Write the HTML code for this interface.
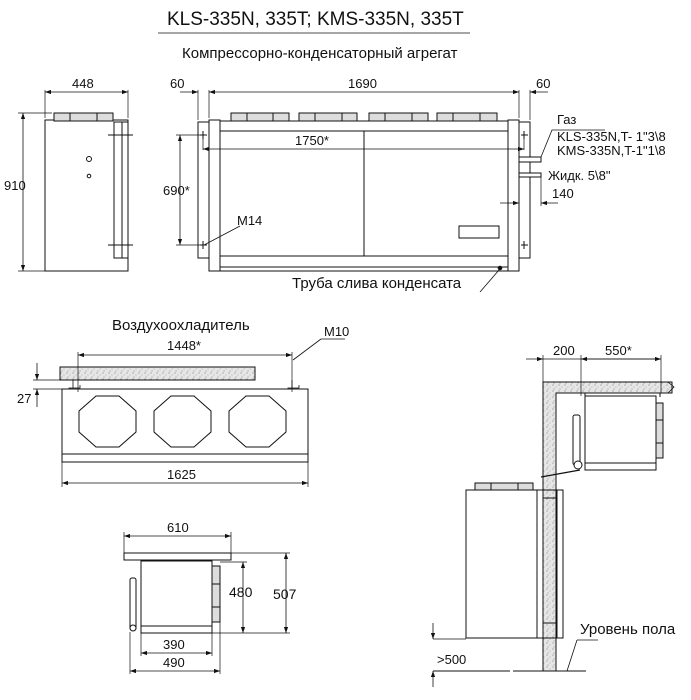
<!DOCTYPE html>
<html><head><meta charset="utf-8"><style>
html,body{margin:0;padding:0;background:#fff;}
svg{display:block;}
text{font-family:"Liberation Sans",sans-serif;font-size:12.5px;fill:#111;}
</style></head><body>
<svg width="691" height="700" viewBox="0 0 691 700" xmlns="http://www.w3.org/2000/svg">
<defs>
<marker id="a" viewBox="0 0 10 10" refX="10" refY="5" markerWidth="9" markerHeight="6" orient="auto-start-reverse" markerUnits="userSpaceOnUse"><path d="M0,1.5 L10,5 L0,8.5 z" fill="#111"/></marker>
<pattern id="sp" width="6" height="6" patternUnits="userSpaceOnUse"><rect width="6" height="6" fill="#e6e6e6"/><circle cx="1" cy="1" r=".6" fill="#888"/><circle cx="4" cy="3" r=".5" fill="#999"/><circle cx="2" cy="5" r=".5" fill="#777"/></pattern>
</defs>
<g stroke="#111" fill="none" stroke-width="1">
<line x1="158" y1="33" x2="470" y2="33" stroke-width="0.8"/>
<rect x="45" y="120" width="83" height="151" fill="#fff"/>
<rect x="54" y="113" width="59" height="8" fill="#ddd"/>
<line x1="70" y1="113" x2="70" y2="121"/><line x1="97" y1="113" x2="97" y2="121"/>
<rect x="114" y="122" width="14" height="136" fill="#fff"/>
<line x1="122" y1="122" x2="122" y2="258"/>
<line x1="108" y1="135" x2="133" y2="135"/><line x1="108" y1="245" x2="133" y2="245"/>
<circle cx="89" cy="159" r="2.5"/><circle cx="89" cy="176" r="1.8"/>
<line x1="45" y1="90" x2="45" y2="118" stroke-width=".7"/><line x1="128" y1="90" x2="128" y2="118" stroke-width=".7"/>
<line x1="45" y1="92" x2="128" y2="92" marker-start="url(#a)" marker-end="url(#a)" stroke-width=".8"/>
<line x1="18" y1="113" x2="52" y2="113" stroke-width=".7"/><line x1="18" y1="271" x2="45" y2="271" stroke-width=".7"/>
<line x1="23" y1="113" x2="23" y2="271" marker-start="url(#a)" marker-end="url(#a)" stroke-width=".8"/>
<rect x="198" y="122" width="11" height="136" fill="#fff"/>
<rect x="209" y="120" width="11" height="151" fill="#fff"/>
<rect x="220" y="121" width="288" height="150" fill="#fff"/>
<line x1="220" y1="131" x2="508" y2="131"/>
<line x1="220" y1="256" x2="508" y2="256"/>
<line x1="220" y1="267" x2="508" y2="267"/>
<line x1="364" y1="131" x2="364" y2="256"/>
<rect x="459" y="226" width="40" height="12"/>
<rect x="508" y="120" width="11" height="151" fill="#fff"/>
<rect x="519" y="122" width="11" height="136" fill="#fff"/>
<g fill="#ddd"><rect x="231" y="113" width="58" height="8"/><rect x="299" y="113" width="58" height="8"/><rect x="369" y="113" width="59" height="8"/><rect x="437" y="113" width="60" height="8"/></g>
<line x1="247" y1="113" x2="247" y2="121"/><line x1="273" y1="113" x2="273" y2="121"/><line x1="315" y1="113" x2="315" y2="121"/><line x1="342" y1="113" x2="342" y2="121"/><line x1="385" y1="113" x2="385" y2="121"/><line x1="412" y1="113" x2="412" y2="121"/><line x1="453" y1="113" x2="453" y2="121"/><line x1="480" y1="113" x2="480" y2="121"/>
<path d="M200,135h7M203,131v8M200,245h7M203,241v8M521,135h7M524,131v8M521,245h7M524,241v8"/>
<line x1="198" y1="90" x2="198" y2="120" stroke-width=".7"/><line x1="209" y1="90" x2="209" y2="118" stroke-width=".7"/>
<line x1="519" y1="90" x2="519" y2="118" stroke-width=".7"/><line x1="530" y1="90" x2="530" y2="120" stroke-width=".7"/>
<line x1="180" y1="92" x2="198" y2="92" marker-end="url(#a)" stroke-width=".8"/>
<line x1="209" y1="92" x2="519" y2="92" marker-start="url(#a)" marker-end="url(#a)" stroke-width=".8"/>
<line x1="530" y1="92" x2="548" y2="92" marker-start="url(#a)" stroke-width=".8"/>
<line x1="203" y1="135" x2="203" y2="150" stroke-width=".7"/><line x1="524" y1="135" x2="524" y2="150" stroke-width=".7"/>
<line x1="203" y1="149" x2="524" y2="149" marker-start="url(#a)" marker-end="url(#a)" stroke-width=".8"/>
<line x1="176" y1="135" x2="203" y2="135" stroke-width=".7"/><line x1="176" y1="245" x2="203" y2="245" stroke-width=".7"/>
<line x1="180" y1="135" x2="180" y2="245" marker-start="url(#a)" marker-end="url(#a)" stroke-width=".8"/>
<line x1="204" y1="245" x2="240" y2="226" stroke-width=".8"/>
<rect x="519" y="157" width="22" height="5" fill="#fff"/>
<rect x="519" y="173" width="22" height="4" fill="#fff"/>
<path d="M541,157 L552,130 L605,130" stroke-width=".8"/>
<line x1="541" y1="177" x2="541" y2="206" stroke-width=".7"/>
<line x1="500" y1="203" x2="519" y2="203" marker-end="url(#a)" stroke-width=".8"/>
<line x1="541" y1="203" x2="558" y2="203" marker-start="url(#a)" stroke-width=".8"/>
<circle cx="500" cy="268" r="1.8" fill="#111"/>
<line x1="499" y1="270" x2="480" y2="292" stroke-width=".8"/>
<rect x="60" y="367" width="195" height="13" fill="url(#sp)"/>
<path d="M73,380v8h-4v2M73,388h7v-3M292,380v8h-4v2M292,388h7v-3" stroke-width=".8"/>
<rect x="62" y="389" width="246" height="73" fill="#fff"/>
<line x1="62" y1="454" x2="308" y2="454"/>
<polygon points="96,396 119,396 136,411 136,432 119,447 96,447 79,432 79,411"/>
<polygon points="171,396 194,396 211,411 211,432 194,447 171,447 154,432 154,411"/>
<polygon points="246,396 269,396 286,411 286,432 269,447 246,447 229,432 229,411"/>
<line x1="78" y1="352" x2="78" y2="392" stroke-width=".7"/><line x1="292" y1="352" x2="292" y2="392" stroke-width=".7"/>
<line x1="78" y1="355" x2="292" y2="355" marker-start="url(#a)" marker-end="url(#a)" stroke-width=".8"/>
<line x1="293" y1="360" x2="321" y2="339" stroke-width=".8"/><line x1="321" y1="339" x2="345" y2="339" stroke-width=".8"/>
<line x1="62" y1="462" x2="62" y2="487" stroke-width=".7"/><line x1="308" y1="462" x2="308" y2="487" stroke-width=".7"/>
<line x1="62" y1="483" x2="308" y2="483" marker-start="url(#a)" marker-end="url(#a)" stroke-width=".8"/>
<line x1="33" y1="380" x2="60" y2="380" stroke-width=".7"/><line x1="33" y1="389" x2="62" y2="389" stroke-width=".7"/>
<line x1="37" y1="363" x2="37" y2="380" marker-end="url(#a)" stroke-width=".8"/>
<line x1="37" y1="407" x2="37" y2="389" marker-end="url(#a)" stroke-width=".8"/>
<rect x="124" y="553" width="107" height="7" fill="#fff"/>
<rect x="141" y="561" width="71" height="72" fill="#fff"/>
<line x1="141" y1="626" x2="212" y2="626"/>
<rect x="212" y="566" width="8" height="56" fill="#ddd"/>
<line x1="212" y1="584" x2="220" y2="584"/><line x1="212" y1="607" x2="220" y2="607"/>
<rect x="130" y="578" width="6" height="52" rx="2"/><circle cx="133" cy="628" r="3" fill="#fff"/>
<line x1="124" y1="532" x2="124" y2="553" stroke-width=".7"/><line x1="231" y1="532" x2="231" y2="553" stroke-width=".7"/>
<line x1="124" y1="536" x2="231" y2="536" marker-start="url(#a)" marker-end="url(#a)" stroke-width=".8"/>
<line x1="231" y1="553" x2="290" y2="553" stroke-width=".7"/><line x1="220" y1="562" x2="247" y2="562" stroke-width=".7"/>
<line x1="212" y1="633" x2="290" y2="633" stroke-width=".7"/>
<line x1="243" y1="562" x2="243" y2="633" marker-start="url(#a)" marker-end="url(#a)" stroke-width=".8"/>
<line x1="286" y1="553" x2="286" y2="633" marker-start="url(#a)" marker-end="url(#a)" stroke-width=".8"/>
<line x1="141" y1="633" x2="141" y2="656" stroke-width=".7"/><line x1="212" y1="633" x2="212" y2="656" stroke-width=".7"/>
<line x1="141" y1="653" x2="212" y2="653" marker-start="url(#a)" marker-end="url(#a)" stroke-width=".8"/>
<line x1="130" y1="632" x2="130" y2="674" stroke-width=".7"/><line x1="220" y1="622" x2="220" y2="674" stroke-width=".7"/>
<line x1="130" y1="671" x2="220" y2="671" marker-start="url(#a)" marker-end="url(#a)" stroke-width=".8"/>
<path d="M543,382 H672 V393 H556 V671 H543 Z" fill="url(#sp)"/>
<path d="M668,382 l6,5 l-6,6" stroke-width=".8"/>
<rect x="585" y="396" width="71" height="74" fill="#fff"/>
<line x1="585" y1="397" x2="585" y2="393"/><line x1="660" y1="397" x2="660" y2="393"/>
<line x1="585" y1="463" x2="656" y2="463"/>
<rect x="656" y="403" width="7" height="55" fill="#ddd"/>
<line x1="656" y1="420" x2="663" y2="420"/><line x1="656" y1="443" x2="663" y2="443"/>
<rect x="573" y="415" width="7" height="50" rx="2" fill="#fff"/><circle cx="578" cy="465" r="4" fill="#fff"/>
<line x1="541" y1="477" x2="580" y2="470" stroke-width="1.2"/>
<rect x="466" y="490" width="71" height="148" fill="#fff"/>
<rect x="475" y="483" width="58" height="7" fill="#ddd"/>
<line x1="491" y1="483" x2="491" y2="490"/><line x1="518" y1="483" x2="518" y2="490"/>
<path d="M537,490 H563 V638 H537 M557,490 V638" fill="none"/>
<line x1="543" y1="498" x2="556" y2="498"/><line x1="543" y1="623" x2="556" y2="623"/>
<line x1="543" y1="355" x2="543" y2="382" stroke-width=".7"/><line x1="581" y1="355" x2="581" y2="396" stroke-width=".7"/><line x1="661" y1="355" x2="661" y2="393" stroke-width=".7"/>
<line x1="526" y1="359" x2="543" y2="359" marker-end="url(#a)" stroke-width=".8"/>
<line x1="543" y1="359" x2="661" y2="359" stroke-width=".8"/>
<line x1="581" y1="359" x2="661" y2="359" marker-start="url(#a)" marker-end="url(#a)" stroke-width=".8"/>
<line x1="433" y1="671" x2="510" y2="671"/><line x1="513" y1="671" x2="586" y2="671"/>
<line x1="433" y1="639" x2="466" y2="639" stroke-width=".7"/>
<line x1="433" y1="623" x2="433" y2="639" marker-end="url(#a)" stroke-width=".8"/>
<line x1="433" y1="687" x2="433" y2="671" marker-end="url(#a)" stroke-width=".8"/>
<line x1="567" y1="671" x2="577" y2="640" stroke-width=".8"/><line x1="577" y1="640" x2="598" y2="640" stroke-width=".8"/>
</g>
<g>
<text x="167" y="25" style="font-size:19px">KLS-335N, 335T; KMS-335N, 335T</text>
<text x="182" y="58" style="font-size:15px">Компрессорно-конденсаторный агрегат</text>
<text x="72" y="88" style="font-size:13px">448</text>
<text x="4" y="190" style="font-size:13px">910</text>
<text x="170" y="88" style="font-size:13px">60</text>
<text x="348" y="88" style="font-size:13px">1690</text>
<text x="536" y="88" style="font-size:13px">60</text>
<text x="295" y="145" style="font-size:13px">1750*</text>
<text x="163" y="195" style="font-size:13px">690*</text>
<text x="237" y="225" style="font-size:13px">M14</text>
<text x="557" y="124" style="font-size:13px">Газ</text>
<text x="557" y="141" style="font-size:13px">KLS-335N,T- 1"3\8</text>
<text x="557" y="155" style="font-size:13px">KMS-335N,T-1"1\8</text>
<text x="548" y="180" style="font-size:13px">Жидк. 5\8"</text>
<text x="552" y="198" style="font-size:13px">140</text>
<text x="292" y="288" style="font-size:15px">Труба слива конденсата</text>
<text x="112" y="330" style="font-size:15px">Воздухоохладитель</text>
<text x="324" y="336" style="font-size:13px">M10</text>
<text x="167" y="350" style="font-size:13px">1448*</text>
<text x="17" y="403" style="font-size:13px">27</text>
<text x="167" y="479" style="font-size:13px">1625</text>
<text x="167" y="532" style="font-size:13px">610</text>
<text x="229" y="597" style="font-size:14px">480</text>
<text x="273" y="599" style="font-size:14px">507</text>
<text x="163" y="649" style="font-size:13px">390</text>
<text x="163" y="667" style="font-size:13px">490</text>
<text x="553" y="355" style="font-size:13px">200</text>
<text x="605" y="355" style="font-size:13px">550*</text>
<text x="437" y="664" style="font-size:13px">&gt;500</text>
<text x="580" y="634" style="font-size:15px">Уровень  пола</text>
</g>
</svg>
</body></html>
